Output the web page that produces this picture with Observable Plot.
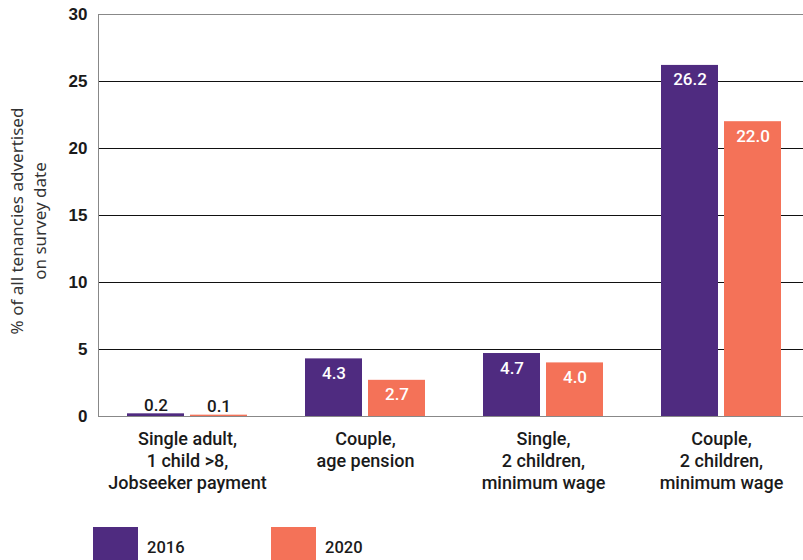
<!DOCTYPE html>
<html><head><meta charset="utf-8">
<script src="https://cdn.jsdelivr.net/npm/d3@7"></script>
<script src="https://cdn.jsdelivr.net/npm/@observablehq/plot@0.6"></script>
<style>
body{margin:0;background:#fff;font-family:Roboto,sans-serif;color:#1a1a1a;}
#wrap{position:relative;width:803px;height:560px;overflow:hidden;}
#ytitle{position:absolute;left:28px;top:221px;transform:translate(-50%,-50%) rotate(-90deg);white-space:nowrap;text-align:center;font-family:"Noto Sans",sans-serif;font-size:17px;line-height:23px;color:#333;}
#legend{position:absolute;left:93px;top:527px;display:flex;}
.item{display:flex;align-items:center;}
.sw{width:45px;height:33px;}
.lab{font-family:Roboto,sans-serif;font-weight:500;font-size:16.5px;margin-left:9px;margin-top:8px;}
</style></head>
<body><div id="wrap"><div id="chart"></div><div id="ytitle">% of all tenancies advertised<br>on survey date</div><div id="legend"></div></div>
<script>
const groups = ["Single adult,\n1 child >8,\nJobseeker payment", "Couple,\nage pension", "Single,\n2 children,\nminimum wage", "Couple,\n2 children,\nminimum wage"];
const years = ["2016", "2020"];
const values2016 = [0.2, 4.3, 4.7, 26.2];
const values2020 = [0.1, 2.7, 4.0, 22.0];
const yTicks = [0, 5, 10, 15, 20, 25, 30];
const colors = ["#4f2b80", "#f47258"];

const data = groups.flatMap((g, i) => [
  {group: g, year: years[0], value: values2016[i]},
  {group: g, year: years[1], value: values2020[i]}
]);

const chart = Plot.plot({
  width: 803, height: 520,
  marginTop: 14, marginBottom: 104, marginLeft: 97, marginRight: 0,
  style: {fontFamily: "Roboto, sans-serif", color: "#1a1a1a", background: "transparent"},
  facet: {marginTop: 0, marginRight: 0, marginBottom: 0, marginLeft: 0},
  fx: {domain: groups, range: [98, 810], padding: 0},
  x: {domain: years, paddingInner: 0.095, paddingOuter: 0.46, axis: null},
  y: {domain: [0, 30]},
  color: {domain: years, range: colors},
  marks: [
    Plot.gridY(yTicks.slice(1, -1), {stroke: "#111", strokeOpacity: 1}),
    Plot.ruleY([0, 30], {stroke: "#888"}),
    Plot.frame({anchor: "left", facetAnchor: "left", stroke: "#888"}),
    Plot.barY(data, {fx: "group", x: "year", y: "value", fill: "year"}),
    Plot.text(data.filter(d => d.value >= 1), {fx: "group", x: "year", y: "value", text: d => d.value.toFixed(1), fill: "white", lineAnchor: "top", dy: 8, fontSize: 17, fontWeight: 500}),
    Plot.text(data.filter(d => d.value < 1), {fx: "group", x: "year", y: "value", text: d => d.value.toFixed(1), fill: "#1a1a1a", lineAnchor: "bottom", dy: -3, fontSize: 17, fontWeight: 500}),
    Plot.axisY({ticks: yTicks, tickSize: 0, tickPadding: 11, label: null, fontSize: 17, fontFamily: "Liberation Sans, Arial, sans-serif", fontWeight: "bold"}),
    Plot.axisFx({anchor: "bottom", tickSize: 0, tickPadding: 13, label: null, fontSize: 18, fontWeight: 500, lineHeight: 1.23})
  ]
});
document.getElementById("chart").append(chart);

const legend = document.getElementById("legend");
years.forEach((y, i) => {
  const item = document.createElement("div");
  item.className = "item";
  item.style.width = i === 0 ? "178px" : "auto";
  item.innerHTML = `<div class="sw" style="background:${colors[i]}"></div><div class="lab">${y}</div>`;
  legend.append(item);
});
</script></body></html>
